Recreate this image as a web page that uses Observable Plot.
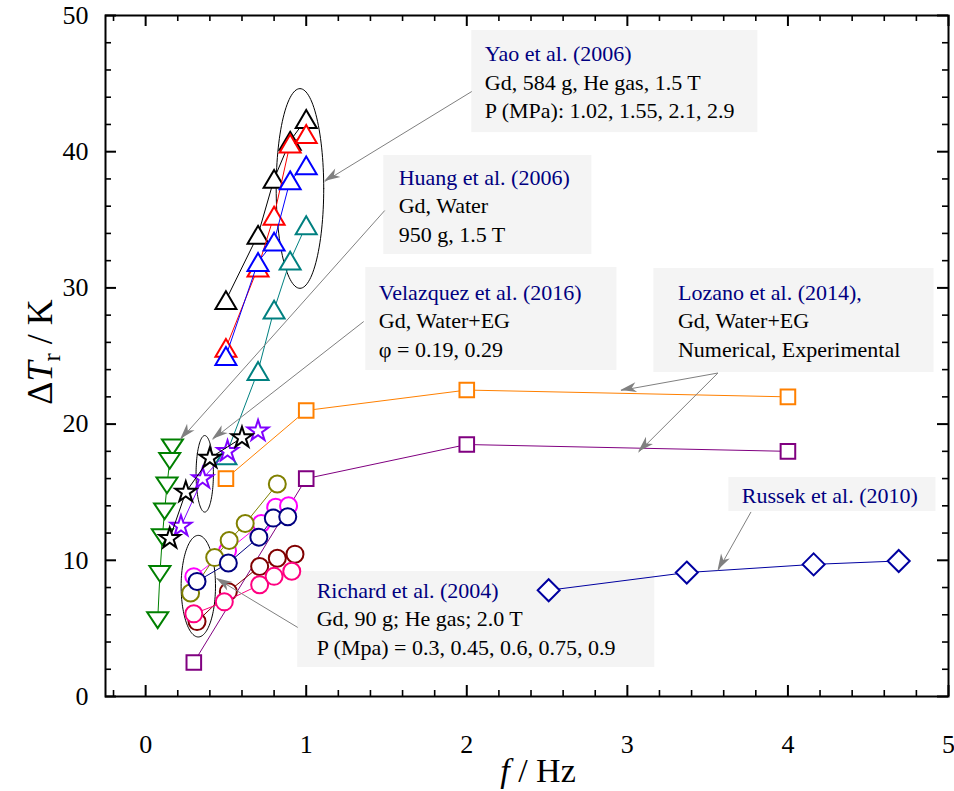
<!DOCTYPE html>
<html>
<head>
<meta charset="utf-8">
<script src="https://cdn.jsdelivr.net/npm/d3@7"></script>
<script src="https://cdn.jsdelivr.net/npm/@observablehq/plot@0.6"></script>
<style>
  body { margin: 0; background: #fff; }
  #chart { width: 954px; height: 791px; }
</style>
</head>
<body>
<div id="chart"></div>
<script>
// ---------------- data ----------------
// Yao et al. (2006) – triangles, 4 pressures
const yaoF      = [0.5, 0.7, 0.8, 0.9, 1.0];
const yaoBlack  = [29.1, 33.9, 38.0, 40.8, 42.4];
const yaoRed    = [25.6, 31.5, 35.3, 40.6, 41.3];
const yaoBlue   = [25.0, 31.9, 33.4, 37.9, 39.0];
const yaoTeal   = [17.7, 23.9, 28.4, 32.0, 34.6];
// Huang et al. (2006) – down triangles
const huangF    = [0.167, 0.15, 0.133, 0.118, 0.104, 0.089, 0.075];
const huangT    = [18.3, 17.3, 15.5, 13.6, 11.7, 9.0, 5.6];
// Velazquez et al. (2016) – stars
const velBlackF = [0.15, 0.25, 0.40, 0.60];
const velBlackT = [11.6, 15.0, 17.5, 19.0];
const velPurpF  = [0.22, 0.355, 0.51, 0.70];
const velPurpT  = [12.5, 16.0, 18.0, 19.5];
// Lozano et al. (2014) – squares
const lozNumF   = [0.5, 1.0, 2.0, 4.0];
const lozNumT   = [16.0, 21.0, 22.5, 22.0];
const lozExpF   = [0.3, 1.0, 2.0, 4.0];
const lozExpT   = [2.5, 16.0, 18.5, 18.0];
// Russek et al. (2010) – diamonds
const russF     = [2.51, 3.37, 4.16, 4.69];
const russT     = [7.8, 9.1, 9.7, 9.95];
// Richard et al. (2004) – circles, 5 pressures
const ricMagF   = [0.30, 0.51, 0.72, 0.81, 0.89];
const ricMagT   = [8.8, 10.7, 12.7, 13.9, 14.0];
const ricOlvF   = [0.28, 0.43, 0.52, 0.62, 0.82];
const ricOlvT   = [7.6, 10.2, 11.45, 12.7, 15.6];
const ricNavF   = [0.32, 0.515, 0.705, 0.795, 0.885];
const ricNavT   = [8.45, 9.8, 11.7, 13.1, 13.2];
const ricMarF   = [0.32, 0.515, 0.71, 0.82, 0.93];
const ricMarT   = [5.5, 7.7, 9.55, 10.15, 10.45];
const ricPnkF   = [0.30, 0.49, 0.71, 0.80, 0.91];
const ricPnkT   = [6.07, 6.95, 8.2, 8.82, 9.2];

// axes
const xTicks = [0, 1, 2, 3, 4, 5];
const yTicks = [0, 10, 20, 30, 40, 50];

// annotations (text)
const annTitles = ["Yao et al. (2006)", "Huang et al. (2006)", "Velazquez et al. (2016)", "Lozano et al. (2014),", "Russek et al. (2010)", "Richard et al. (2004)"];
const annBodies = [
  ["Gd, 584 g, He gas, 1.5 T", "P (MPa): 1.02, 1.55, 2.1, 2.9"],
  ["Gd, Water", "950 g, 1.5 T"],
  ["Gd, Water+EG", "\u03C6 = 0.19, 0.29"],
  ["Gd, Water+EG", "Numerical, Experimental"],
  [],
  ["Gd, 90 g; He gas; 2.0 T", "P (Mpa) = 0.3, 0.45, 0.6, 0.75, 0.9"]
];
// annotation box extents in data units [x1, x2, y1, y2]
const annBoxX1 = [2.031, 1.483, 1.371, 3.165, 3.632, 0.947];
const annBoxX2 = [3.813, 2.779, 2.935, 4.910, 4.922, 3.171];
const annBoxY1 = [41.4, 32.45, 23.94, 23.79, 13.58, 2.13];
const annBoxY2 = [48.9, 39.72, 31.5, 31.42, 16.08, 9.18];
const annTextX = [2.112, 1.576, 1.452, 3.315, 3.713, 1.065];
const annLine1Y = [47.2, 38.1, 29.66, 29.66, 14.76, 7.78];
const annLineGap = 2.12;
// arrows [x1,y1] -> [x2,y2] in data units
const arrX1 = [2.031, 1.489, 1.358, 3.564, 3.564, 3.77, 0.947];
const arrY1 = [44.42, 35.68, 27.53, 23.75, 23.75, 13.55, 5.07];
const arrX2 = [1.115, 0.218, 0.417, 2.96, 3.07, 3.565, 0.442];
const arrY2 = [37.81, 18.87, 18.87, 22.47, 17.94, 9.25, 8.66];
// ellipses [cx, cy, rx, ry] in data units
const ellCX = [0.961, 0.368, 0.328];
const ellCY = [37.3, 16.35, 8.1];
const ellRX = [0.148, 0.054, 0.107];
const ellRY = [7.33, 2.81, 3.73];

// ---------------- symbols ----------------
const rad = s => Math.sqrt(s / Math.PI);
const triUp = {draw(c, s) { const r = rad(s); c.moveTo(0, -0.85 * r); c.lineTo(r, 0.85 * r); c.lineTo(-r, 0.85 * r); c.closePath(); }};
const triDown = {draw(c, s) { const r = rad(s); c.moveTo(0, 0.75 * r); c.lineTo(r, -0.75 * r); c.lineTo(-r, -0.75 * r); c.closePath(); }};
const sq = {draw(c, s) { const r = rad(s); c.rect(-r, -r, 2 * r, 2 * r); }};
const dia = {draw(c, s) { const r = rad(s); c.moveTo(0, -r); c.lineTo(r, 0); c.lineTo(0, r); c.lineTo(-r, 0); c.closePath(); }};
const star = {draw(c, s) { const r = rad(s); d3.symbolStar.draw(c, r * r / 0.8908130915292852); }};

const series = [
  {x: yaoF, y: yaoBlack, color: "#000000", sym: triUp, r: 10.5},
  {x: yaoF, y: yaoRed, color: "#ff0000", sym: triUp, r: 10.5},
  {x: yaoF, y: yaoBlue, color: "#0000ff", sym: triUp, r: 10.5},
  {x: yaoF, y: yaoTeal, color: "#008080", sym: triUp, r: 10.5},
  {x: huangF, y: huangT, color: "#008000", sym: triDown, r: 10.5},
  {x: velPurpF, y: velPurpT, color: "#8000ff", sym: star, r: 11},
  {x: velBlackF, y: velBlackT, color: "#000000", sym: star, r: 11},
  {x: lozNumF, y: lozNumT, color: "#ff8000", sym: sq, r: 7.3},
  {x: lozExpF, y: lozExpT, color: "#800080", sym: sq, r: 7.3},
  {x: ricMagF, y: ricMagT, color: "#ff00ff", sym: "circle", r: 8.5},
  {x: ricOlvF, y: ricOlvT, color: "#808000", sym: "circle", r: 8.5},
  {x: ricNavF, y: ricNavT, color: "#000080", sym: "circle", r: 8.5},
  {x: ricMarF, y: ricMarT, color: "#800000", sym: "circle", r: 8.5},
  {x: ricPnkF, y: ricPnkT, color: "#ff0080", sym: "circle", r: 8.5},
  {x: russF, y: russT, color: "#0000a0", sym: dia, r: 11}
];

// ---------------- layout ----------------
const W = 954, H = 791, mL = 105, mR = 6, mT = 15, mB = 95;
const FW = W - mL - mR, FH = H - mT - mB;
const FONT = "'Liberation Serif', 'Times New Roman', serif";
const xMinor = d3.range(-0.2, 5.0001, 0.2).map(v => +v.toFixed(2)).filter(v => Math.abs(v - Math.round(v)) > 1e-6);
const yMinor = d3.range(0, 50.0001, 2).filter(v => v % 10 !== 0);

const marks = [];
// boxes
marks.push(Plot.rect(annTitles.map((_, i) => i), {
  x1: i => annBoxX1[i], x2: i => annBoxX2[i], y1: i => annBoxY1[i], y2: i => annBoxY2[i], fill: "#f4f4f4"
}));
// ellipses
ellCX.forEach((cx, k) => {
  const pts = d3.range(0, 361, 3).map(a => [cx + ellRX[k] * Math.cos(a * Math.PI / 180), ellCY[k] + ellRY[k] * Math.sin(a * Math.PI / 180)]);
  marks.push(Plot.line(pts, {x: d => d[0], y: d => d[1], stroke: "black", strokeWidth: 1}));
});
// series
for (const s of series) {
  const idx = s.x.map((_, i) => i);
  marks.push(Plot.line(idx, {x: i => s.x[i], y: i => s.y[i], stroke: s.color, strokeWidth: 1}));
  marks.push(Plot.dot(idx, {x: i => s.x[i], y: i => s.y[i], symbol: s.sym, r: s.r, stroke: s.color, strokeWidth: 2, fill: "white"}));
}
// arrows
const arrIdx = arrX1.map((_, i) => i);
marks.push(Plot.link(arrIdx, {x1: i => arrX1[i], y1: i => arrY1[i], x2: i => arrX2[i], y2: i => arrY2[i], stroke: "#808080", strokeWidth: 1}));
marks.push(function (index, scales) {
  const sx = scales.x, sy = scales.y;
  const g = d3.create("svg:g");
  for (const i of arrIdx) {
    const x1 = sx(arrX1[i]), y1 = sy(arrY1[i]), x2 = sx(arrX2[i]), y2 = sy(arrY2[i]);
    const a = Math.atan2(y2 - y1, x2 - x1), L = 16, Wd = 5;
    const ca = Math.cos(a), sa = Math.sin(a);
    const bx = x2 - L * ca, by = y2 - L * sa, mx = x2 - 0.72 * L * ca, my = y2 - 0.72 * L * sa;
    g.append("path")
      .attr("d", `M${x2},${y2}L${bx - Wd * sa},${by + Wd * ca}L${mx},${my}L${bx + Wd * sa},${by - Wd * ca}Z`)
      .attr("fill", "#808080");
  }
  return g.node();
});
// annotation texts
const textRows = [];
annTitles.forEach((t, i) => {
  textRows.push({x: annTextX[i], y: annLine1Y[i], t, c: "#000080"});
  annBodies[i].forEach((b, j) => textRows.push({x: annTextX[i], y: annLine1Y[i] - (j + 1) * annLineGap, t: b, c: "#000000"}));
});
marks.push(Plot.text(textRows, {x: "x", y: "y", text: "t", fill: "c", textAnchor: "start", lineAnchor: "middle", fontSize: 22, fontFamily: FONT}));
// frame and ticks
marks.push(Plot.frame({stroke: "black", strokeWidth: 2}));
marks.push(Plot.ruleX(xTicks, {x: d => d, insetTop: FH - 11, stroke: "black", strokeWidth: 2}));
marks.push(Plot.ruleX(xTicks, {x: d => d, insetBottom: FH - 11, stroke: "black", strokeWidth: 2}));
marks.push(Plot.ruleX(xMinor, {x: d => d, insetTop: FH - 6, stroke: "black", strokeWidth: 1.6}));
marks.push(Plot.ruleX(xMinor, {x: d => d, insetBottom: FH - 6, stroke: "black", strokeWidth: 1.6}));
marks.push(Plot.ruleY(yTicks, {y: d => d, insetRight: FW - 11, stroke: "black", strokeWidth: 2}));
marks.push(Plot.ruleY(yTicks, {y: d => d, insetLeft: FW - 11, stroke: "black", strokeWidth: 2}));
marks.push(Plot.ruleY(yMinor, {y: d => d, insetRight: FW - 6, stroke: "black", strokeWidth: 1.6}));
marks.push(Plot.ruleY(yMinor, {y: d => d, insetLeft: FW - 6, stroke: "black", strokeWidth: 1.6}));
// axes labels
marks.push(Plot.axisX(xTicks, {anchor: "bottom", tickSize: 0, tickPadding: 38, fontSize: 26, fontFamily: FONT, label: null, tickFormat: d => String(d)}));
marks.push(Plot.axisY(yTicks, {anchor: "left", tickSize: 0, tickPadding: 17, fontSize: 26, fontFamily: FONT, label: null, tickFormat: d => String(d)}));

const svg = Plot.plot({
  width: W, height: H,
  marginLeft: mL, marginRight: mR, marginTop: mT, marginBottom: mB,
  x: {domain: [-0.25, 5]},
  y: {domain: [0, 50]},
  style: {fontFamily: FONT, color: "black", background: "white", overflow: "visible"},
  marks
});

// axis titles with italics / subscript
const s = d3.select(svg);
const xt = s.append("text").attr("x", 538).attr("y", 782).attr("text-anchor", "middle")
  .attr("font-family", FONT).attr("font-size", 34).attr("fill", "black");
xt.append("tspan").attr("font-style", "italic").text("f");
xt.append("tspan").text(" / Hz");
const yt = s.append("text").attr("transform", "translate(52,352) rotate(-90)").attr("text-anchor", "middle")
  .attr("font-family", FONT).attr("font-size", 36).attr("fill", "black");
yt.append("tspan").text("\u0394");
yt.append("tspan").attr("font-style", "italic").text("T");
yt.append("tspan").attr("font-size", 25).attr("dy", 8).text("r");
yt.append("tspan").attr("dy", -8).text(" / K");

document.getElementById("chart").appendChild(svg);
</script>
</body>
</html>
